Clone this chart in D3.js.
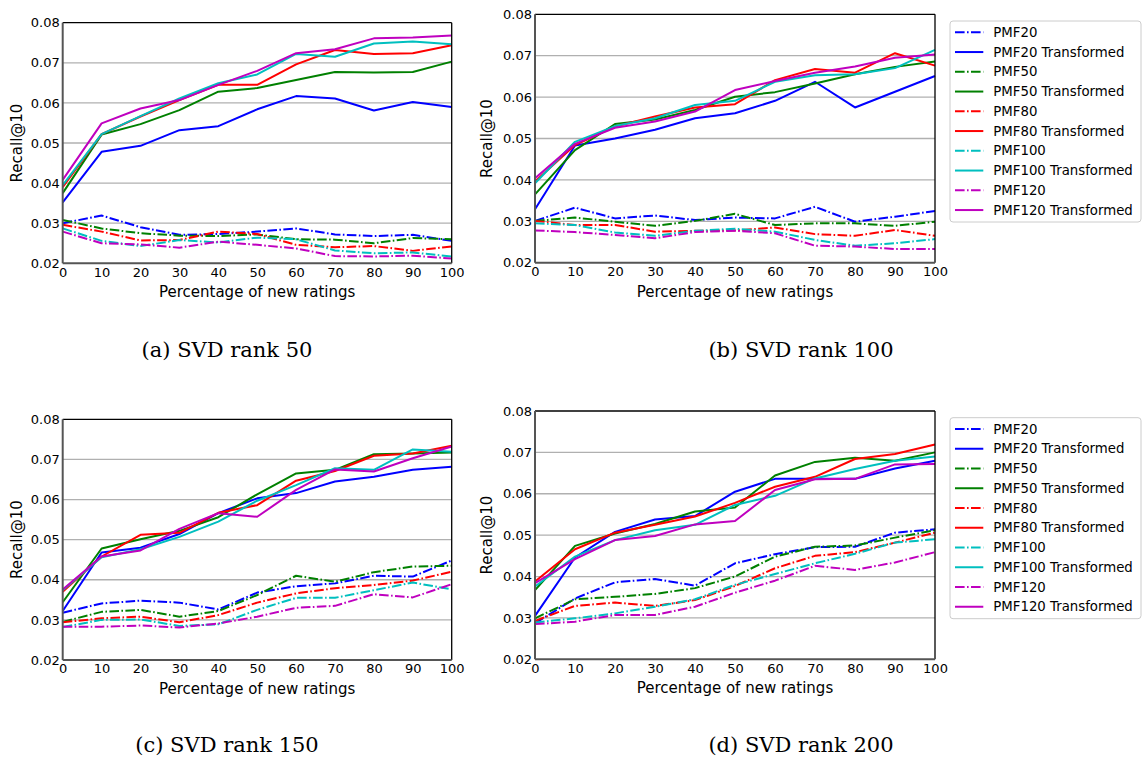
<!DOCTYPE html>
<html>
<head>
<meta charset="utf-8">
<script src="https://cdn.jsdelivr.net/npm/d3@7"></script>
<style>
  html, body { margin: 0; padding: 0; background: #fff; }
  svg { display: block; }
</style>
</head>
<body>
<svg id="chart" width="1142" height="758"></svg>
<script>
// ---------------- DATA ----------------
const xValues = [0, 10, 20, 30, 40, 50, 60, 70, 80, 90, 100];
const xTicks = [0, 10, 20, 30, 40, 50, 60, 70, 80, 90, 100];
const yTicks = [0.02, 0.03, 0.04, 0.05, 0.06, 0.07, 0.08];
const seriesNames = ["PMF20", "PMF20 Transformed", "PMF50", "PMF50 Transformed",
  "PMF80", "PMF80 Transformed", "PMF100", "PMF100 Transformed", "PMF120", "PMF120 Transformed"];
const seriesColors = ["#0000ff", "#0000ff", "#008000", "#008000", "#ff0000", "#ff0000",
  "#00bfbf", "#00bfbf", "#bf00bf", "#bf00bf"];
const captions = ["(a) SVD rank 50", "(b) SVD rank 100", "(c) SVD rank 150", "(d) SVD rank 200"];
const xLabel = "Percentage of new ratings";
const yLabel = "Recall@10";

// (a) SVD rank 50
const a_PMF20    = [0.0300, 0.0319, 0.0290, 0.0271, 0.0273, 0.0279, 0.0287, 0.0272, 0.0268, 0.0271, 0.0256];
const a_PMF20T   = [0.0352, 0.0478, 0.0493, 0.0532, 0.0542, 0.0584, 0.0617, 0.0611, 0.0581, 0.0602, 0.0590];
const a_PMF50    = [0.0308, 0.0287, 0.0275, 0.0269, 0.0268, 0.0272, 0.0260, 0.0259, 0.0250, 0.0263, 0.0260];
const a_PMF50T   = [0.0375, 0.0521, 0.0547, 0.0582, 0.0628, 0.0637, 0.0657, 0.0677, 0.0676, 0.0677, 0.0703];
const a_PMF80    = [0.0296, 0.0279, 0.0257, 0.0258, 0.0279, 0.0273, 0.0246, 0.0240, 0.0243, 0.0231, 0.0242];
const a_PMF80T   = [0.0390, 0.0522, 0.0566, 0.0607, 0.0645, 0.0645, 0.0696, 0.0732, 0.0722, 0.0724, 0.0744];
const a_PMF100   = [0.0287, 0.0256, 0.0243, 0.0258, 0.0252, 0.0264, 0.0260, 0.0232, 0.0225, 0.0227, 0.0217];
const a_PMF100T  = [0.0395, 0.0522, 0.0567, 0.0611, 0.0649, 0.0671, 0.0722, 0.0715, 0.0748, 0.0753, 0.0746];
const a_PMF120   = [0.0279, 0.0250, 0.0247, 0.0239, 0.0254, 0.0246, 0.0237, 0.0218, 0.0217, 0.0219, 0.0212];
const a_PMF120T  = [0.0408, 0.0549, 0.0586, 0.0607, 0.0645, 0.0680, 0.0724, 0.0734, 0.0761, 0.0763, 0.0768];

// (b) SVD rank 100
const b_PMF20    = [0.0301, 0.0333, 0.0307, 0.0314, 0.0303, 0.0309, 0.0307, 0.0335, 0.0299, 0.0311, 0.0325];
const b_PMF20T   = [0.0329, 0.0483, 0.0500, 0.0521, 0.0549, 0.0561, 0.0591, 0.0637, 0.0575, 0.0613, 0.0651];
const b_PMF50    = [0.0301, 0.0309, 0.0299, 0.0289, 0.0301, 0.0318, 0.0291, 0.0295, 0.0295, 0.0289, 0.0299];
const b_PMF50T   = [0.0365, 0.0472, 0.0535, 0.0546, 0.0569, 0.0601, 0.0612, 0.0633, 0.0655, 0.0673, 0.0686];
const b_PMF80    = [0.0301, 0.0291, 0.0291, 0.0275, 0.0277, 0.0278, 0.0285, 0.0269, 0.0265, 0.0279, 0.0265];
const b_PMF80T   = [0.0396, 0.0484, 0.0529, 0.0553, 0.0575, 0.0583, 0.0641, 0.0668, 0.0659, 0.0706, 0.0676];
const b_PMF100   = [0.0295, 0.0291, 0.0273, 0.0265, 0.0277, 0.0282, 0.0275, 0.0255, 0.0241, 0.0247, 0.0257];
const b_PMF100T  = [0.0392, 0.0492, 0.0530, 0.0549, 0.0581, 0.0591, 0.0637, 0.0653, 0.0655, 0.0670, 0.0714];
const b_PMF120   = [0.0278, 0.0274, 0.0267, 0.0259, 0.0274, 0.0277, 0.0271, 0.0241, 0.0239, 0.0233, 0.0233];
const b_PMF120T  = [0.0404, 0.0487, 0.0526, 0.0541, 0.0565, 0.0617, 0.0639, 0.0659, 0.0674, 0.0695, 0.0703];

// (c) SVD rank 150
const c_PMF20    = [0.0318, 0.0341, 0.0348, 0.0343, 0.0326, 0.0368, 0.0384, 0.0391, 0.0410, 0.0408, 0.0448];
const c_PMF20T   = [0.0322, 0.0468, 0.0480, 0.0514, 0.0566, 0.0603, 0.0616, 0.0645, 0.0657, 0.0674, 0.0682];
const c_PMF50    = [0.0295, 0.0320, 0.0325, 0.0308, 0.0322, 0.0362, 0.0410, 0.0395, 0.0419, 0.0433, 0.0435];
const c_PMF50T   = [0.0344, 0.0478, 0.0501, 0.0522, 0.0556, 0.0613, 0.0665, 0.0674, 0.0713, 0.0715, 0.0717];
const c_PMF80    = [0.0294, 0.0304, 0.0308, 0.0294, 0.0312, 0.0343, 0.0366, 0.0379, 0.0387, 0.0398, 0.0420];
const c_PMF80T   = [0.0370, 0.0458, 0.0512, 0.0517, 0.0567, 0.0586, 0.0647, 0.0671, 0.0709, 0.0715, 0.0734];
const c_PMF100   = [0.0282, 0.0300, 0.0301, 0.0285, 0.0289, 0.0325, 0.0355, 0.0355, 0.0374, 0.0393, 0.0376];
const c_PMF100T  = [0.0374, 0.0456, 0.0476, 0.0507, 0.0545, 0.0597, 0.0636, 0.0678, 0.0674, 0.0725, 0.0719];
const c_PMF120   = [0.0283, 0.0283, 0.0286, 0.0281, 0.0291, 0.0308, 0.0330, 0.0335, 0.0364, 0.0356, 0.0389];
const c_PMF120T  = [0.0376, 0.0458, 0.0473, 0.0527, 0.0566, 0.0557, 0.0624, 0.0675, 0.0670, 0.0703, 0.0732];

// (d) SVD rank 200
const d_PMF20    = [0.0287, 0.0347, 0.0386, 0.0394, 0.0378, 0.0432, 0.0454, 0.0471, 0.0472, 0.0506, 0.0514];
const d_PMF20T   = [0.0305, 0.0446, 0.0508, 0.0538, 0.0546, 0.0605, 0.0636, 0.0636, 0.0636, 0.0661, 0.0680];
const d_PMF50    = [0.0299, 0.0345, 0.0351, 0.0358, 0.0372, 0.0400, 0.0448, 0.0472, 0.0475, 0.0494, 0.0512];
const d_PMF50T   = [0.0367, 0.0474, 0.0504, 0.0527, 0.0557, 0.0567, 0.0644, 0.0677, 0.0687, 0.0680, 0.0700];
const d_PMF80    = [0.0293, 0.0329, 0.0337, 0.0329, 0.0343, 0.0377, 0.0420, 0.0450, 0.0459, 0.0482, 0.0506];
const d_PMF80T   = [0.0388, 0.0466, 0.0506, 0.0525, 0.0545, 0.0578, 0.0617, 0.0641, 0.0684, 0.0696, 0.0719];
const d_PMF100   = [0.0289, 0.0299, 0.0311, 0.0327, 0.0345, 0.0380, 0.0406, 0.0432, 0.0455, 0.0482, 0.0490];
const d_PMF100T  = [0.0376, 0.0448, 0.0488, 0.0512, 0.0525, 0.0573, 0.0595, 0.0637, 0.0660, 0.0680, 0.0690];
const d_PMF120   = [0.0285, 0.0291, 0.0307, 0.0307, 0.0327, 0.0361, 0.0390, 0.0426, 0.0416, 0.0434, 0.0459];
const d_PMF120T  = [0.0384, 0.0442, 0.0488, 0.0498, 0.0526, 0.0534, 0.0609, 0.0635, 0.0636, 0.0671, 0.0672];

const panelSeries = [
  [a_PMF20, a_PMF20T, a_PMF50, a_PMF50T, a_PMF80, a_PMF80T, a_PMF100, a_PMF100T, a_PMF120, a_PMF120T],
  [b_PMF20, b_PMF20T, b_PMF50, b_PMF50T, b_PMF80, b_PMF80T, b_PMF100, b_PMF100T, b_PMF120, b_PMF120T],
  [c_PMF20, c_PMF20T, c_PMF50, c_PMF50T, c_PMF80, c_PMF80T, c_PMF100, c_PMF100T, c_PMF120, c_PMF120T],
  [d_PMF20, d_PMF20T, d_PMF50, d_PMF50T, d_PMF80, d_PMF80T, d_PMF100, d_PMF100T, d_PMF120, d_PMF120T]
];

// ---------------- LAYOUT ----------------
const panels = [
  { left: 62.7, right: 451.7, top: 22.7, bottom: 263.3, yLabelX: 16.7, capX: 227, capY: 356.7, legend: false },
  { left: 535,  right: 935,   top: 14.3, bottom: 262.7, yLabelX: 487,  capX: 801, capY: 356.7, legend: true },
  { left: 62.7, right: 451.7, top: 419.3, bottom: 660,  yLabelX: 16.7, capX: 227, capY: 752.3, legend: false },
  { left: 535,  right: 935,   top: 411,  bottom: 659.3, yLabelX: 487,  capX: 801, capY: 752.3, legend: true }
];

const svg = d3.select("#chart");
const FONT = "DejaVu Sans, sans-serif";
const DASHDOT = "9.6,2.4,1.6,2.4";

panels.forEach((p, pi) => {
  const g = svg.append("g");
  const x = d3.scaleLinear().domain([0, 100]).range([p.left, p.right]);
  const y = d3.scaleLinear().domain([0.02, 0.08]).range([p.bottom, p.top]);

  // gridlines
  g.append("g").selectAll("line").data(yTicks.slice(1, -1)).join("line")
    .attr("x1", p.left).attr("x2", p.right)
    .attr("y1", d => y(d)).attr("y2", d => y(d))
    .attr("stroke", "#b0b0b0").attr("stroke-width", 1.3);

  // axes (tick labels only)
  const xAxis = d3.axisBottom(x).tickValues(xTicks).tickSize(0).tickPadding(4).tickFormat(d3.format("d"));
  const xg = g.append("g").attr("transform", `translate(0,${p.bottom})`).call(xAxis);
  xg.select(".domain").remove();
  xg.selectAll("text").attr("font-family", FONT).attr("font-size", 13).attr("fill", "#000");

  const yAxis = d3.axisLeft(y).tickValues(yTicks).tickSize(0).tickPadding(3).tickFormat(d3.format(".2f"));
  const yg = g.append("g").attr("transform", `translate(${p.left},0)`).call(yAxis);
  yg.select(".domain").remove();
  yg.selectAll("text").attr("font-family", FONT).attr("font-size", 13).attr("fill", "#000");

  // lines
  const line = d3.line().x((d, i) => x(xValues[i])).y(d => y(d));
  panelSeries[pi].forEach((vals, si) => {
    g.append("path").datum(vals)
      .attr("d", line)
      .attr("fill", "none")
      .attr("stroke", seriesColors[si])
      .attr("stroke-width", 2)
      .attr("stroke-linejoin", "round")
      .attr("stroke-dasharray", si % 2 === 0 ? DASHDOT : null);
  });

  // frame
  g.append("line").attr("x1", p.left).attr("x2", p.right).attr("y1", p.top).attr("y2", p.top)
    .attr("stroke", "#000").attr("stroke-width", 1.3);
  g.append("line").attr("x1", p.right).attr("x2", p.right).attr("y1", p.top).attr("y2", p.bottom)
    .attr("stroke", "#000").attr("stroke-width", 1.3);
  g.append("line").attr("x1", p.left).attr("x2", p.left).attr("y1", p.top).attr("y2", p.bottom)
    .attr("stroke", "#555").attr("stroke-width", 2);
  g.append("line").attr("x1", p.left).attr("x2", p.right).attr("y1", p.bottom).attr("y2", p.bottom)
    .attr("stroke", "#555").attr("stroke-width", 2);

  // axis labels
  g.append("text").attr("x", (p.left + p.right) / 2).attr("y", p.bottom + 29)
    .attr("text-anchor", "middle").attr("dominant-baseline", "central")
    .attr("font-family", FONT).attr("font-size", 15).text(xLabel);
  g.append("text")
    .attr("transform", `translate(${p.yLabelX},${(p.top + p.bottom) / 2}) rotate(-90)`)
    .attr("text-anchor", "middle").attr("dominant-baseline", "central")
    .attr("font-family", FONT).attr("font-size", 15).text(yLabel);

  // caption
  g.append("text").attr("x", p.capX).attr("y", p.capY)
    .attr("text-anchor", "middle")
    .attr("font-family", "DejaVu Serif, serif").attr("font-size", 21)
    .text(captions[pi]);

  // legend
  if (p.legend) {
    const lx = 950, ly = p.top + 6.7, lw = 191, lh = 201;
    const lg = g.append("g");
    lg.append("rect").attr("x", lx).attr("y", ly).attr("width", lw).attr("height", lh)
      .attr("rx", 3).attr("fill", "#fff").attr("stroke", "#cccccc").attr("stroke-width", 1);
    const ly0 = ly + 11.3, step = 19.75;
    seriesNames.forEach((name, si) => {
      const cy = ly0 + si * step;
      lg.append("line").attr("x1", lx + 5).attr("x2", lx + 33.3).attr("y1", cy).attr("y2", cy)
        .attr("stroke", seriesColors[si]).attr("stroke-width", 2)
        .attr("stroke-dasharray", si % 2 === 0 ? DASHDOT : null);
      lg.append("text").attr("x", lx + 43.3).attr("y", cy)
        .attr("dominant-baseline", "central")
        .attr("font-family", FONT).attr("font-size", 13.3).text(name);
    });
  }
});
</script>
</body>
</html>
